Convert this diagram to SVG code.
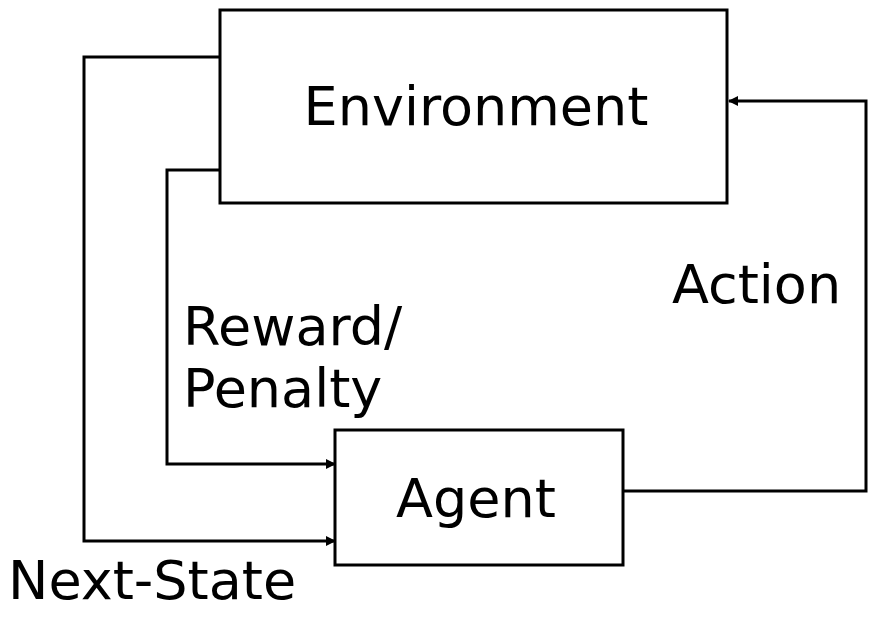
<svg xmlns="http://www.w3.org/2000/svg" width="885" height="637" viewBox="0 0 885 637">
<style>
.box{fill:#fff;stroke:#000;stroke-width:3}
.ln{fill:none;stroke:#000;stroke-width:3}
text{font-family:"DejaVu Sans",Verdana,sans-serif;font-size:54px;fill:#000}
</style>
<defs><marker id="a" markerWidth="10" markerHeight="10" refX="9" refY="5" orient="auto" markerUnits="userSpaceOnUse"><path d="M0,0 L10,5 L0,10 z" fill="#000"/></marker></defs>
<rect width="885" height="637" fill="#fff"/>
<g id="connectors">
<polyline class="ln" points="220,57 84,57 84,541 335,541" marker-end="url(#a)"/>
<polyline class="ln" points="220,170 167,170 167,464 335,464" marker-end="url(#a)"/>
<polyline class="ln" points="623,491 866,491 866,101 729,101" marker-end="url(#a)"/>
</g>
<g id="environment"><rect class="box" x="220" y="10" width="507" height="193"/><text x="476" y="125" text-anchor="middle">Environment</text></g>
<g id="agent"><rect class="box" x="335" y="430" width="288" height="135"/><text x="476" y="517" text-anchor="middle">Agent</text></g>
<g id="labels">
<text x="672" y="303">Action</text>
<text x="183" y="345">Reward/</text>
<text x="183" y="407">Penalty</text>
<text x="8" y="599">Next-State</text>
</g>
</svg>
